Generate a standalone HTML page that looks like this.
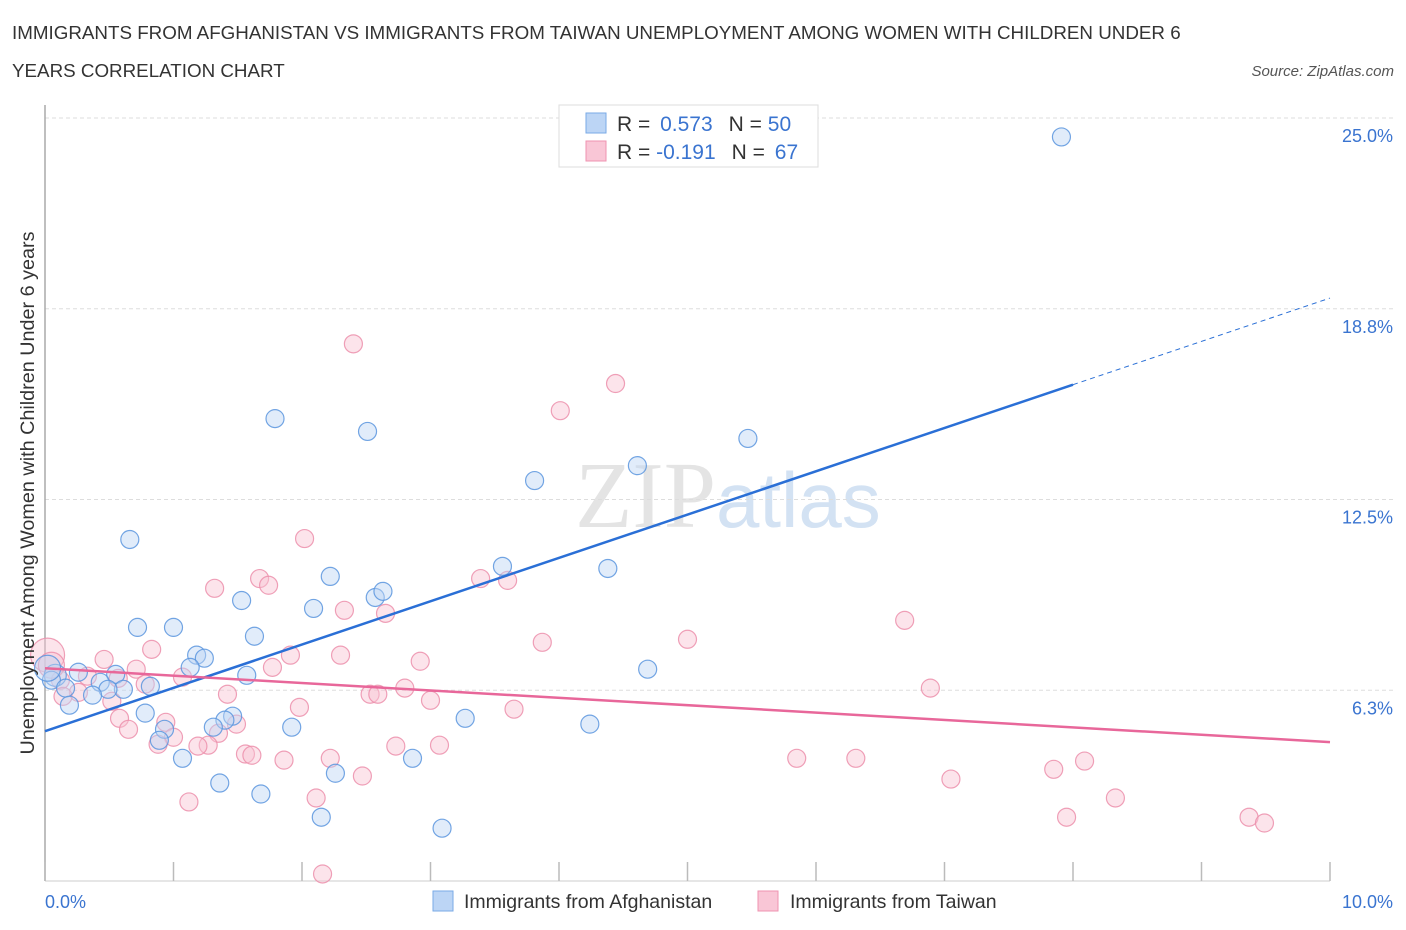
<!DOCTYPE html>
<html><head><meta charset="utf-8">
<style>
body{margin:0;background:#fff;font-family:"Liberation Sans",sans-serif;}
svg{display:block}
</style></head>
<body>
<svg id="chart" width="1406" height="930" xmlns="http://www.w3.org/2000/svg">
<text x="12" y="39" font-size="18.8" fill="#333">IMMIGRANTS FROM AFGHANISTAN VS IMMIGRANTS FROM TAIWAN UNEMPLOYMENT AMONG WOMEN WITH CHILDREN UNDER 6</text>
<text x="12" y="77" font-size="18.8" fill="#333">YEARS CORRELATION CHART</text>
<text x="1394" y="76" font-size="15" fill="#555" font-style="italic" text-anchor="end">Source: ZipAtlas.com</text>
<text x="716" y="527" font-size="94" fill="#e4e4e4" text-anchor="end" font-family="Liberation Serif,serif">ZIP</text>
<text x="716" y="527" font-size="78" fill="#d3e2f3">atlas</text>
<g id="grid"></g>
<g id="axes"></g>
<g id="marks"></g>
<g>
<rect x="559" y="105" width="259" height="62" fill="#fff" stroke="#ddd"/>
<rect x="586" y="113" width="20" height="20" fill="#bcd5f5" stroke="#7aaae6"/>
<rect x="586" y="141" width="20" height="20" fill="#f9c6d6" stroke="#ef93b0"/>
<text x="617" y="131" font-size="21" fill="#333">R = <tspan fill="#3a74d0" dx="4">0.573</tspan><tspan dx="16" fill="#333">N = </tspan><tspan fill="#3a74d0" dx="0">50</tspan></text>
<text x="617" y="159" font-size="21" fill="#333">R = <tspan fill="#3a74d0" dx="0">-0.191</tspan><tspan dx="16" fill="#333">N = </tspan><tspan fill="#3a74d0" dx="4">67</tspan></text>
</g>
<g>
<rect x="433" y="891" width="20" height="20" fill="#bcd5f5" stroke="#7aaae6"/>
<text x="464" y="908" font-size="19.5" fill="#333">Immigrants from Afghanistan</text>
<rect x="758" y="891" width="20" height="20" fill="#f9c6d6" stroke="#ef93b0"/>
<text x="790" y="908" font-size="19.5" fill="#333">Immigrants from Taiwan</text>
</g>
<text transform="translate(34,493) rotate(-90)" font-size="19.8" fill="#333" text-anchor="middle">Unemployment Among Women with Children Under 6 years</text>
</svg>
<script>
const yTicks=[6.25,12.5,18.75,25];
const yTickLabels=["6.3%","12.5%","18.8%","25.0%"];
const xTickCount=[0,1,2,3,4,5,6,7,8,9,10];
const blueX=[7.91,1.79,2.51,5.47,4.61,3.81,0.66,3.56,4.38,2.22,1.53,2.09,2.57,2.63,0.72,1.00,1.63,1.18,1.24,1.13,4.69,1.57,0.55,0.26,0.08,0.05,0.43,0.61,0.49,0.82,0.16,0.37,0.19,0.78,1.46,1.40,3.27,4.24,1.31,1.92,0.93,0.89,1.07,2.86,2.26,1.36,1.68,2.15,3.09,0.02];
const blueY=[24.38,15.15,14.73,14.50,13.61,13.12,11.19,10.31,10.24,9.98,9.19,8.93,9.29,9.49,8.31,8.31,8.02,7.40,7.30,7.00,6.94,6.74,6.77,6.84,6.74,6.58,6.51,6.28,6.28,6.38,6.32,6.09,5.76,5.50,5.40,5.27,5.33,5.14,5.04,5.04,4.97,4.61,4.02,4.02,3.53,3.21,2.85,2.09,1.73,6.97];
const pinkX=[2.40,4.44,4.01,2.02,1.67,1.74,1.32,3.39,3.60,2.33,2.65,3.87,5.00,6.69,0.83,0.46,1.91,2.30,2.92,1.77,0.71,1.07,0.33,0.57,0.78,0.12,0.02,0.05,2.80,2.53,2.59,1.42,0.52,3.00,1.98,6.89,3.65,0.26,0.14,0.58,0.94,1.49,0.65,1.35,1.00,0.88,1.27,1.19,2.73,3.07,1.56,1.61,1.86,2.22,5.85,6.31,8.09,7.85,7.05,2.47,8.33,1.12,2.11,7.95,9.37,9.49,2.16];
const pinkY=[17.60,16.30,15.41,11.22,9.91,9.69,9.59,9.91,9.85,8.87,8.77,7.82,7.92,8.54,7.59,7.26,7.40,7.40,7.20,7.00,6.94,6.68,6.71,6.64,6.45,6.58,7.40,7.07,6.32,6.12,6.12,6.12,5.89,5.92,5.69,6.32,5.63,6.18,6.05,5.33,5.20,5.14,4.97,4.84,4.71,4.48,4.45,4.42,4.42,4.45,4.16,4.12,3.96,4.02,4.02,4.02,3.93,3.66,3.34,3.44,2.72,2.59,2.72,2.09,2.09,1.90,0.23];
const blueTrend=[4.91,1.419];
const pinkTrend=[6.97,-0.242];
const NS="http://www.w3.org/2000/svg";
const X0=45,X1=1330,Y0=881,Y25=118;
function sx(v){return X0+(X1-X0)*v/10;}
function sy(v){return Y0-(Y0-Y25)*v/25;}
function mk(tag,attrs,parent){const e=document.createElementNS(NS,tag);for(const k in attrs)e.setAttribute(k,attrs[k]);parent.appendChild(e);return e;}
const grid=document.getElementById('grid'),axes=document.getElementById('axes'),marks=document.getElementById('marks');
yTicks.forEach((t,i)=>{
 const l=mk('line',{x1:X0,x2:1395,y1:sy(t),y2:sy(t),stroke:'#ddd','stroke-dasharray':'4,3'},grid);
 
 
 const tx=mk('text',{x:1393,y:sy(t)+24,'font-size':18,fill:'#3a74d0','text-anchor':'end'},axes);
 tx.textContent=yTickLabels[i];
 
 
});
let a=mk('line',{x1:X0,x2:X0,y1:105,y2:Y0,stroke:'#aaa','stroke-width':1.5},axes);


a=mk('line',{x1:X0,x2:X1,y1:Y0,y2:Y0,stroke:'#ccc'},axes);


xTickCount.forEach(t=>{
 const l=mk('line',{x1:sx(t),x2:sx(t),y1:862,y2:Y0,stroke:'#bbb','stroke-width':1.5},axes);
 
 
});
let t0=mk('text',{x:45,y:908,'font-size':18,fill:'#3a74d0'},axes);t0.textContent='0.0%';


let t1=mk('text',{x:1393,y:908,'font-size':18,fill:'#3a74d0','text-anchor':'end'},axes);t1.textContent='10.0%';


function dot(x,y,fill,stroke,name,r){
 const c=mk('circle',{cx:sx(x),cy:sy(y),r:r,fill:fill,'fill-opacity':0.45,stroke:stroke,'stroke-width':1.2,'stroke-opacity':0.85},marks);
 
 
}
pinkX.forEach((x,i)=>dot(x,pinkY[i],'#f8c3d3','#ec8fac','point-taiwan',i==26?17:(i==27?13:9)));
blueX.forEach((x,i)=>dot(x,blueY[i],'#bcd5f5','#5b95de','point-afghanistan',i==49?13:(i==24?11:9)));
let L=mk('line',{x1:sx(0),y1:sy(blueTrend[0]),x2:sx(8),y2:sy(blueTrend[0]+8*blueTrend[1]),stroke:'#2a6fd6','stroke-width':2.5},marks);


L=mk('line',{x1:sx(8),y1:sy(blueTrend[0]+8*blueTrend[1]),x2:sx(10),y2:sy(blueTrend[0]+10*blueTrend[1]),stroke:'#2a6fd6','stroke-width':1,'stroke-dasharray':'5,4'},marks);


L=mk('line',{x1:sx(0),y1:sy(pinkTrend[0]),x2:sx(10),y2:sy(pinkTrend[0]+10*pinkTrend[1]),stroke:'#e8679a','stroke-width':2.5},marks);


</script>
</body></html>
